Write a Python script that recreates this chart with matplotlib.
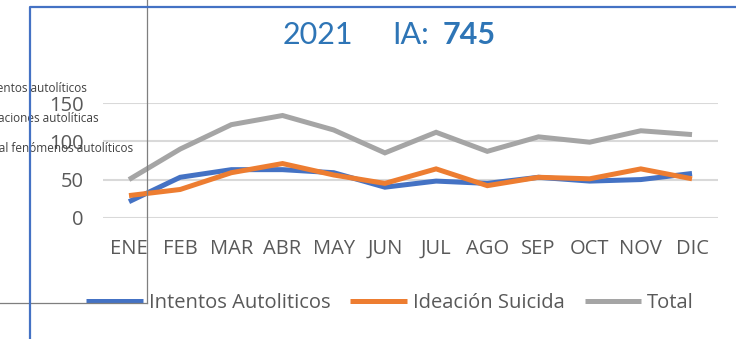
import matplotlib
matplotlib.use("Agg")
import matplotlib.pyplot as plt
from matplotlib.lines import Line2D

plt.rcParams['font.family'] = ['Open Sans', 'DejaVu Sans']

months = ["ENE", "FEB", "MAR", "ABR", "MAY", "JUN", "JUL", "AGO", "SEP", "OCT", "NOV", "DIC"]
intentos = [21, 53, 63, 63, 59, 40, 48, 45, 53, 48, 50, 58]
ideacion = [29, 37, 59, 71, 56, 45, 64, 42, 53, 51, 64, 51]
total = [50, 90, 122, 134, 115, 85, 112, 87, 106, 99, 114, 109]
yticks = [0, 50, 100, 150]

series = [
    ("Intentos Autoliticos", intentos, "#4472C4"),
    ("Ideación Suicida", ideacion, "#ED7D31"),
    ("Total", total, "#A5A5A5"),
]

W, H = 736, 339
fig = plt.figure(figsize=(W / 100, H / 100), dpi=100)
fig.patch.set_facecolor("white")

ax = fig.add_axes([103.4 / W, 1 - 217.7 / H, (717.6 - 103.4) / W, (217.7 - 103.3) / H])
x = list(range(len(months)))
handles = []
for name, vals, col in series:
    ln, = ax.plot(x, vals, color=col, lw=3.6, solid_capstyle="butt", solid_joinstyle="miter", label=name, zorder=3)
    handles.append(ln)

ax.set_xlim(-0.5, len(months) - 0.5)
ax.set_ylim(0, 150)
ax.set_yticks(yticks)
ax.set_xticks(x)
ax.set_xticklabels(months)
ax.grid(axis="y", color="#D9D9D9", lw=1.5)
ax.set_axisbelow(True)
for s in ax.spines.values():
    s.set_visible(False)
ax.tick_params(axis="both", length=0, labelsize=14.5, labelcolor="#595959")
ax.tick_params(axis="x", pad=15)
ax.tick_params(axis="y", pad=14)
ax.patch.set_alpha(0)

# title
ty = 1 - 35 / H
title_font = dict(color="#2E75B6", fontsize=22, va="center", family=["Lato", "DejaVu Sans"])
fig.text(318 / W, ty, "2021", ha="center", **title_font)
fig.text(392 / W, ty, "IA:", ha="left", **title_font)
fig.text(443 / W, ty, "745", ha="left", fontweight="bold", **title_font)

# legend
leg = fig.legend(handles=handles, loc="center", bbox_to_anchor=(390 / W, 1 - 303 / H), ncol=3,
                 frameon=False, fontsize=14.5, handlelength=2.8, handletextpad=0.3, columnspacing=1.0)
for t in leg.get_texts():
    t.set_color("#595959")

# side labels
side = [("Intentos autolíticos", 87, 88), ("Ideaciones autolíticas", 99, 118), ("Total fenómenos autolíticos", 133, 149)]
for txt, xr, yc in side:
    fig.text(xr / W, 1 - yc / H, txt, fontsize=8.5, color="#404040", ha="right", va="center")

# guide lines
fig.add_artist(Line2D([146.5 / W, 146.5 / W], [1, 1 - 303 / H], color="#7F7F7F", lw=0.9, zorder=10))
fig.add_artist(Line2D([0, 146.5 / W], [1 - 303 / H, 1 - 303 / H], color="#7F7F7F", lw=0.9, zorder=10))
# blue frame
fig.add_artist(Line2D([30.5 / W, 30.5 / W, 1.01], [-0.01, 1 - 6.5 / H, 1 - 6.5 / H], color="#4472C4", lw=1.6, zorder=10))

fig.savefig("out.png", dpi=100, facecolor="white")
